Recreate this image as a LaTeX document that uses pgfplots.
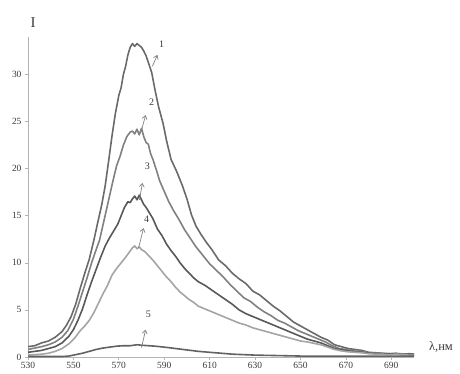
\documentclass[border=0pt]{standalone}
\usepackage{fontspec}
\setmainfont{Liberation Serif}
\usepackage{pgfplots}
\pgfplotsset{compat=1.18}
\usetikzlibrary{arrows.meta}
\definecolor{cA}{HTML}{6A6A6A}
\definecolor{cB}{HTML}{808080}
\definecolor{cC}{HTML}{585858}
\definecolor{cD}{HTML}{A4A4A4}
\definecolor{cE}{HTML}{626262}
\definecolor{axisgray}{HTML}{B4B4B4}
\definecolor{labgray}{HTML}{3A3A3A}
\begin{document}
\begin{tikzpicture}
\begin{axis}[
  at={(0,0)}, anchor=south west,
  scale only axis, width=386bp, height=320bp,
  xmin=530, xmax=700, ymin=0, ymax=34,
  axis lines*=left,
  axis line style={draw=axisgray, line width=0.7pt},
  xtick={530,550,...,690}, ytick={0,5,...,30},
  tick style={draw=axisgray, line width=0.7pt},
  tick align=outside, major tick length=3bp,
  ticklabel style={font=\fontsize{9.5}{11}\selectfont, text=labgray},
  xticklabel style={yshift=1bp},
  /pgf/number format/assume math mode=true,
  /pgf/number format/1000 sep={},
  clip=false,
  every axis plot/.append style={line width=1.6pt, mark=none, line join=round},
]
% curve 1
\addplot[cA] coordinates {
(530,1.1)(533,1.2)(536,1.5)(539,1.7)(542,2.1)(545,2.7)(547,3.4)(549,4.3)(551,5.6)(553,7.3)
(555,8.9)(557,10.4)(559,12.4)(561,14.6)(562.5,16.2)(564,18.2)(565.5,20.8)(567,23.5)(568.5,25.9)
(570,27.8)(571,28.6)(572,30.0)(573,30.9)(574,32.1)(575,32.9)(576,33.3)(577,33.0)(578,33.3)
(579,33.1)(580,32.9)(581,32.5)(582,32.0)(583,31.3)(584.5,30.2)(586,28.3)(587.5,26.6)(589.5,24.8)
(591,23.0)(593,21.0)(595.5,19.7)(598,18.2)(600,16.8)(602,15.1)(604,13.9)(606,13.1)(608.5,12.2)
(611,11.4)(614,10.3)(617,9.7)(620,8.9)(623,8.3)(626,7.8)(629,7.0)(632,6.6)(635,6.0)(638,5.4)
(641,4.9)(644,4.3)(647,3.7)(650,3.3)(653,2.9)(656,2.5)(659,2.1)(662,1.8)(665,1.3)(668,1.1)
(671,0.9)(674,0.8)(677,0.7)(680,0.5)(683,0.45)(686,0.4)(689,0.35)(692,0.4)(695,0.3)(698,0.35)(700,0.3)
};
% curve 2
\addplot[cB] coordinates {
(530,0.8)(533,0.95)(536,1.1)(539,1.3)(542,1.6)(545,2.1)(547.5,2.8)(550,4.0)(552,5.4)(554,6.9)
(556,8.4)(558,10.0)(560,11.4)(561.5,12.4)(563,14.0)(564.5,15.6)(566,17.2)(567.5,18.8)(569,20.3)
(570.5,21.3)(572,22.5)(573.5,23.4)(575,23.9)(576,24.0)(577,23.7)(578,24.2)(579,23.6)(580,24.3)
(581,23.4)(582,22.8)(583,22.6)(584,21.6)(585,21.0)(586.5,19.9)(588,18.7)(590,17.6)(592,16.5)
(594,15.6)(596.5,14.6)(599,13.5)(601.5,12.6)(604,11.7)(607,10.8)(610,9.9)(613,9.2)(616,8.5)
(619,7.7)(622,7.0)(625,6.3)(628,5.9)(631,5.3)(634,4.8)(637,4.4)(640,3.9)(643,3.6)(646,3.2)
(649,2.8)(652,2.5)(655,2.2)(658,1.9)(661,1.6)(664,1.2)(667,0.9)(670,0.8)(673,0.65)(676,0.6)
(679,0.5)(682,0.4)(685,0.4)(688,0.35)(691,0.3)(694,0.35)(697,0.3)(700,0.3)
};
% curve 3
\addplot[cC] coordinates {
(530,0.5)(533,0.6)(536,0.7)(539,0.9)(542,1.1)(545,1.5)(548,2.2)(550,2.9)(552,3.9)(554,5.1)
(556,6.6)(558,8.0)(560,9.3)(562,10.6)(564,11.8)(566,12.7)(568,13.5)(569.5,14.1)(571,15.0)
(572.5,15.9)(574,16.5)(575,16.4)(576,16.8)(577,17.1)(578,16.7)(579,17.2)(580,16.7)(581,16.2)
(582,15.9)(583.5,15.3)(585,14.7)(587,13.6)(589,12.9)(591,12.0)(593,11.3)(595,10.7)(597,10.0)
(599,9.4)(601,8.9)(603,8.4)(605,8.0)(608,7.6)(611,7.1)(614,6.6)(617,6.1)(620,5.6)(623,5.0)
(626,4.6)(629,4.3)(632,4.0)(635,3.7)(638,3.4)(641,3.1)(644,2.8)(647,2.5)(650,2.2)(653,1.9)
(656,1.7)(659,1.5)(662,1.2)(665,0.9)(668,0.75)(671,0.65)(674,0.55)(677,0.5)(680,0.4)(683,0.35)
(686,0.3)(689,0.35)(692,0.3)(695,0.25)(698,0.3)(700,0.25)
};
% curve 4
\addplot[cD] coordinates {
(530,0.2)(533,0.25)(536,0.3)(539,0.4)(542,0.6)(545,0.9)(548,1.4)(550.5,2.0)(553,2.8)(555,3.3)
(557,3.9)(559,4.7)(561,5.7)(563,6.7)(565,7.6)(567,8.7)(569,9.4)(571,10.0)(573,10.6)(574.5,11.1)
(576,11.6)(577,11.8)(578,11.5)(579,11.7)(580,11.4)(581.5,11.2)(583,10.8)(585,10.3)(587,9.7)
(589,9.1)(591,8.5)(593,8.0)(595,7.4)(597,6.9)(599,6.5)(601,6.1)(603,5.8)(605,5.4)(608,5.1)
(611,4.8)(614,4.5)(617,4.2)(620,3.9)(623,3.6)(626,3.4)(629,3.1)(632,2.9)(635,2.7)(638,2.5)
(641,2.3)(644,2.1)(647,1.9)(650,1.7)(653,1.6)(656,1.45)(659,1.3)(662,1.05)(665,0.8)(668,0.65)
(671,0.55)(674,0.5)(677,0.45)(680,0.35)(683,0.3)(686,0.3)(689,0.25)(692,0.3)(695,0.25)(698,0.2)(700,0.2)
};
% curve 5
\addplot[cE] coordinates {
(530,0.05)(535,0.05)(540,0.05)(545,0.05)(548,0.1)(551,0.25)(554,0.4)(557,0.6)(560,0.8)(563,0.95)
(566,1.05)(569,1.15)(572,1.2)(575,1.2)(578,1.3)(580,1.25)(583,1.2)(586,1.15)(590,1.05)(595,0.9)
(600,0.75)(605,0.6)(610,0.5)(615,0.4)(620,0.3)(625,0.25)(630,0.2)(640,0.15)(650,0.1)(660,0.1)
(670,0.1)(680,0.1)(690,0.1)(700,0.1)
};
% annotations
\begin{scope}[draw=cB, line width=0.7pt, -{Straight Barb[length=3.5pt,width=5pt]}]
\draw (axis cs:584.8,30.9) -- (axis cs:587,32.1);
\draw (axis cs:580,24.1) -- (axis cs:581.8,25.7);
\draw (axis cs:579.1,16.7) -- (axis cs:580.4,18.5);
\draw (axis cs:578.7,11.6) -- (axis cs:580.9,13.7);
\draw (axis cs:580,1.0) -- (axis cs:581.8,2.9);
\end{scope}
\begin{scope}[every node/.style={font=\fontsize{10}{12}\selectfont, text=labgray, inner sep=0pt}]
\node at (axis cs:588.8,33.2) {1};
\node at (axis cs:584.4,27.1) {2};
\node at (axis cs:582.6,20.3) {3};
\node at (axis cs:582.2,14.6) {4};
\node at (axis cs:583,4.5) {5};
\end{scope}
\node[font=\fontsize{15}{16}\selectfont, text=labgray, inner sep=0pt] at ([xshift=5bp,yshift=14bp]rel axis cs:0,1) {I};
\node[font=\fontsize{12.5}{14}\selectfont, text=labgray, inner sep=0pt] at ([xshift=27bp,yshift=10bp]rel axis cs:1,0) {λ,нм};
\end{axis}
\pgfresetboundingbox
\path[use as bounding box] (-28bp,-17bp) rectangle (432bp,357bp);
\end{tikzpicture}
\end{document}
